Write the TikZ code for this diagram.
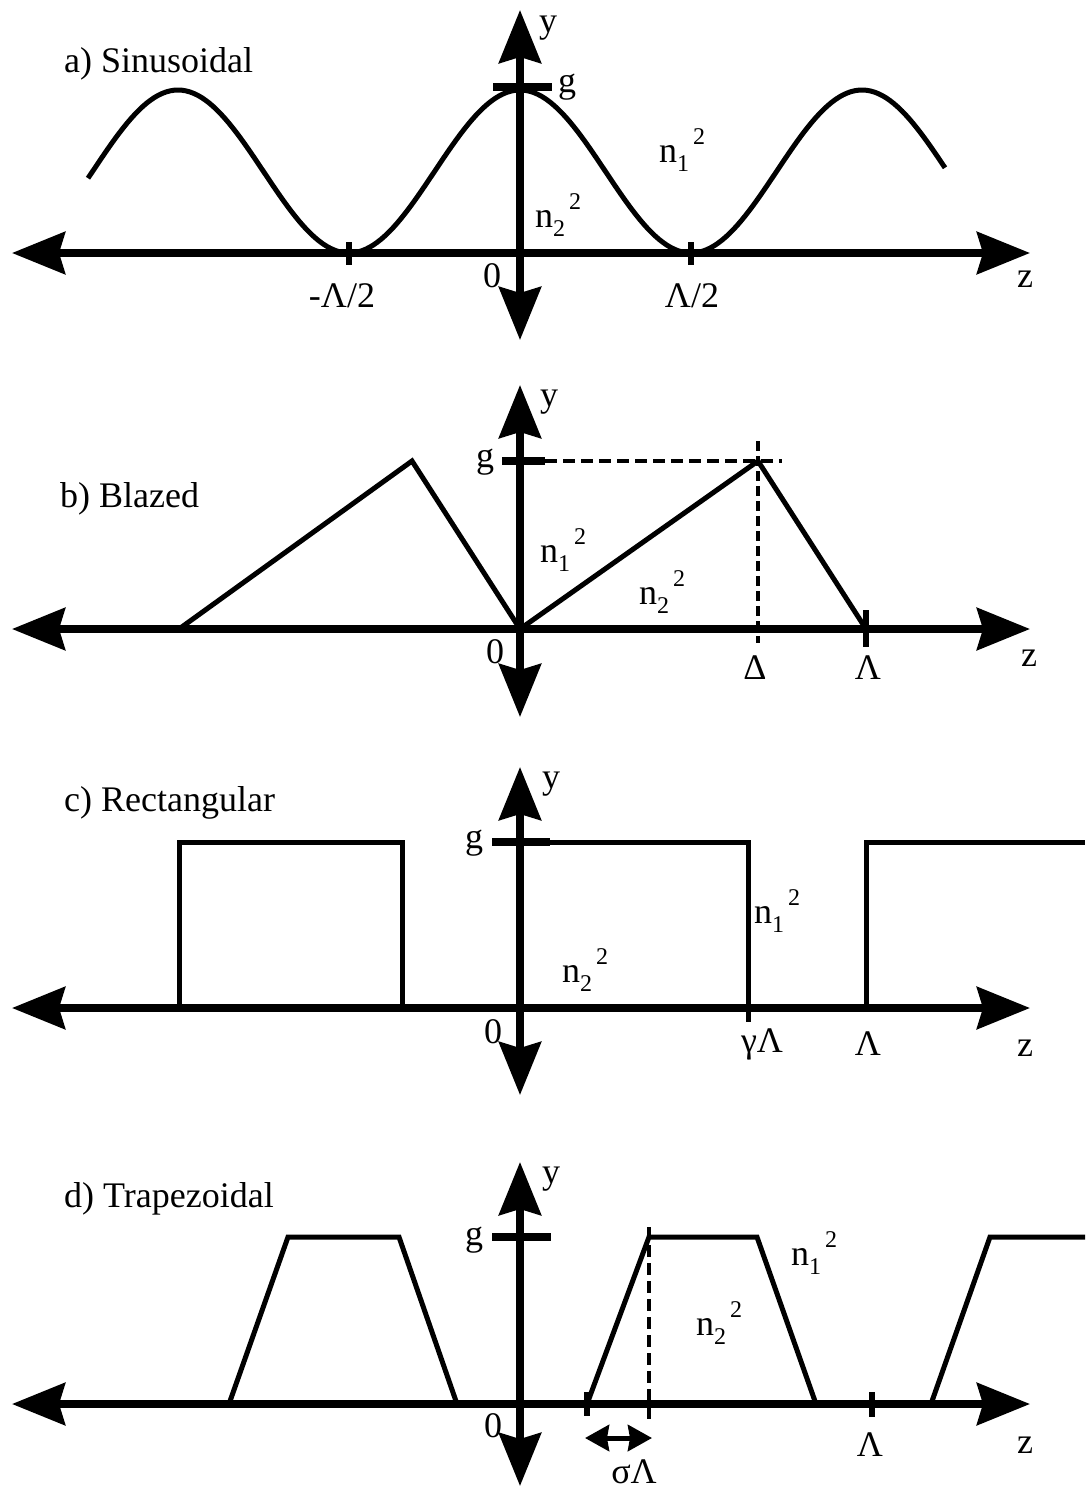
\documentclass[tikz,border=0pt]{standalone}
\usepackage{fontspec}
\setmainfont{Liberation Serif}
\usetikzlibrary{arrows.meta}
\newcommand{\labfont}{\fontsize{36pt}{40pt}\selectfont}
\newcommand{\smallfont}{\fontsize{24pt}{25pt}\selectfont}
\newcommand{\nlab}[1]{n\raisebox{-0.26em}{\smallfont #1}\hspace{4pt}\raisebox{0.5em}{\smallfont 2}}
\tikzset{
  axisline/.style={line width=7.5pt,
    arrows={Stealth[length=53pt,width=42pt,inset=6pt]-Stealth[length=53pt,width=42pt,inset=6pt]}},
  curve/.style={line width=5pt,line join=miter},
  tickmark/.style={line width=5.5pt},
  gtick/.style={line width=8pt},
  dashthick/.style={line width=4.5pt,dash pattern=on 12pt off 6pt},
  dashthin/.style={line width=3.5pt,dash pattern=on 10pt off 5pt},
  lbl/.style={inner sep=0pt,font=\labfont},
  title/.style={anchor=base west,inner sep=0pt,font=\labfont},
  smallarrow/.style={line width=5pt,
    arrows={Stealth[length=24pt,width=26pt,inset=2pt]-Stealth[length=24pt,width=26pt,inset=2pt]}}
}
\begin{document}
\begin{tikzpicture}[x=1pt,y=-1pt]
\useasboundingbox[fill=white] (0,0) rectangle (1085,1489);

% ---------------- a) Sinusoidal ----------------
\coordinate (aL) at (12,253);  \coordinate (aR) at (1030,253);
\coordinate (aB) at (520,340); \coordinate (aT) at (520,10);
\draw[curve] plot[domain=88:945,samples=220] (\x,{171.5-81.5*cos(1.05263*(\x-520))});
\draw[axisline] (aL) -- (aR);
\draw[axisline] (aB) -- (aT);
\coordinate (agl) at (493,87); \coordinate (agr) at (552,87);
\draw[gtick] (agl) -- (agr);
\coordinate (at1a) at (349,242); \coordinate (at1b) at (349,265);
\coordinate (at2a) at (691,242); \coordinate (at2b) at (691,265);
\draw[tickmark] (at1a) -- (at1b);
\draw[tickmark] (at2a) -- (at2b);
\node[title] (atitle) at (64,72) {a) Sinusoidal};
\node[lbl] (ay) at (548,28) {y};
\node[lbl] (ag) at (567,87) {g};
\node[lbl] (an1) at (682,150) {\nlab{1}};
\node[lbl] (an2) at (558,215) {\nlab{2}};
\node[lbl] (a0) at (492,276) {0};
\node[lbl] (amh) at (342,296) {-Λ/2};
\node[lbl] (aph) at (692,296) {Λ/2};
\node[lbl] (az) at (1025,279) {z};

% ---------------- b) Blazed ----------------
\coordinate (bL) at (12,629);  \coordinate (bR) at (1030,629);
\coordinate (bB) at (520,717); \coordinate (bT) at (520,385);
\coordinate (b1) at (179,629); \coordinate (b2) at (412,461);
\coordinate (b3) at (520,629); \coordinate (b4) at (758,461);
\coordinate (b5) at (866,629);
\draw[curve] (b1) -- (b2) -- (b3) -- (b4) -- (b5);
\draw[axisline] (bL) -- (bR);
\draw[axisline] (bB) -- (bT);
\coordinate (bgl) at (502,461); \coordinate (bgr) at (545,461);
\coordinate (bge) at (782,461);
\draw[gtick] (bgl) -- (bgr);
\draw[dashthick] (bgr) -- (bge);
\coordinate (bdt) at (758,441); \coordinate (bdb) at (758,643);
\draw[dashthin] (bdt) -- (bdb);
\coordinate (bta) at (866,610); \coordinate (btb) at (866,647);
\draw[tickmark] (bta) -- (btb);
\node[title] (btitle) at (60,507) {b) Blazed};
\node[lbl] (by) at (549,402) {y};
\node[lbl] (bg) at (485,462) {g};
\node[lbl] (bn1) at (563,550) {\nlab{1}};
\node[lbl] (bn2) at (662,592) {\nlab{2}};
\node[lbl] (b0) at (495,652) {0};
\node[lbl] (bD) at (755,668) {Δ};
\node[lbl] (bLam) at (868,668) {Λ};
\node[lbl] (bz) at (1029,658) {z};

% ---------------- c) Rectangular ----------------
\coordinate (cL) at (12,1008);  \coordinate (cR) at (1030,1008);
\coordinate (cB) at (520,1095); \coordinate (cT) at (520,767);
\coordinate (c1) at (179,1008); \coordinate (c2) at (179,842);
\coordinate (c3) at (402,842);  \coordinate (c4) at (402,1008);
\draw[curve] (c1) -- (c2) -- (c3) -- (c4);
\coordinate (c5) at (492,842);  \coordinate (c6) at (748,842);
\coordinate (c7) at (748,1022);
\draw[curve] (c5) -- (c6) -- (c7);
\coordinate (c8) at (866,1008); \coordinate (c9) at (866,842);
\coordinate (c10) at (1085,842);
\draw[curve] (c8) -- (c9) -- (c10);
\draw[axisline] (cL) -- (cR);
\draw[axisline] (cB) -- (cT);
\coordinate (cgr) at (550,842);
\draw[gtick] (c5) -- (cgr);
\node[title] (ctitle) at (64,811) {c) Rectangular};
\node[lbl] (cy) at (551,784) {y};
\node[lbl] (cg) at (474,843) {g};
\node[lbl] (cn1) at (777,911) {\nlab{1}};
\node[lbl] (cn2) at (585,970) {\nlab{2}};
\node[lbl] (c0) at (493,1032) {0};
\node[lbl] (cgL) at (762,1044) {γΛ};
\node[lbl] (cLam) at (868,1044) {Λ};
\node[lbl] (cz) at (1025,1048) {z};

% ---------------- d) Trapezoidal ----------------
\coordinate (dL) at (12,1404);  \coordinate (dR) at (1030,1404);
\coordinate (dB) at (520,1486); \coordinate (dT) at (520,1162);
\coordinate (d1) at (229,1404); \coordinate (d2) at (288,1237);
\coordinate (d3) at (399,1237); \coordinate (d4) at (457,1404);
\draw[curve] (d1) -- (d2) -- (d3) -- (d4);
\coordinate (d5) at (587,1404); \coordinate (d6) at (649,1237);
\coordinate (d7) at (757,1237); \coordinate (d8) at (816,1404);
\draw[curve] (d5) -- (d6) -- (d7) -- (d8);
\coordinate (d9) at (931,1404); \coordinate (d10) at (990,1237);
\coordinate (d11) at (1085,1237);
\draw[curve] (d9) -- (d10) -- (d11);
\draw[axisline] (dL) -- (dR);
\draw[axisline] (dB) -- (dT);
\coordinate (dgl) at (492,1237); \coordinate (dgr) at (551,1237);
\draw[gtick] (dgl) -- (dgr);
\coordinate (dta) at (587,1392); \coordinate (dtb) at (587,1416);
\draw[tickmark] (dta) -- (dtb);
\coordinate (dLa) at (872,1392); \coordinate (dLb) at (872,1417);
\draw[tickmark] (dLa) -- (dLb);
\coordinate (ddt) at (649,1227); \coordinate (ddb) at (649,1420);
\draw[dashthick] (ddt) -- (ddb);
\coordinate (dal) at (585,1438); \coordinate (dar) at (652,1438);
\draw[smallarrow] (dal) -- (dar);
\node[title] (dtitle) at (64,1207) {d) Trapezoidal};
\node[lbl] (dy) at (551,1179) {y};
\node[lbl] (dg) at (474,1240) {g};
\node[lbl] (dn1) at (814,1253) {\nlab{1}};
\node[lbl] (dn2) at (719,1323) {\nlab{2}};
\node[lbl] (d0) at (493,1426) {0};
\node[lbl] (dLam) at (870,1445) {Λ};
\node[lbl] (dz) at (1025,1445) {z};
\node[lbl] (dsig) at (634,1472) {σΛ};
\end{tikzpicture}
\end{document}
